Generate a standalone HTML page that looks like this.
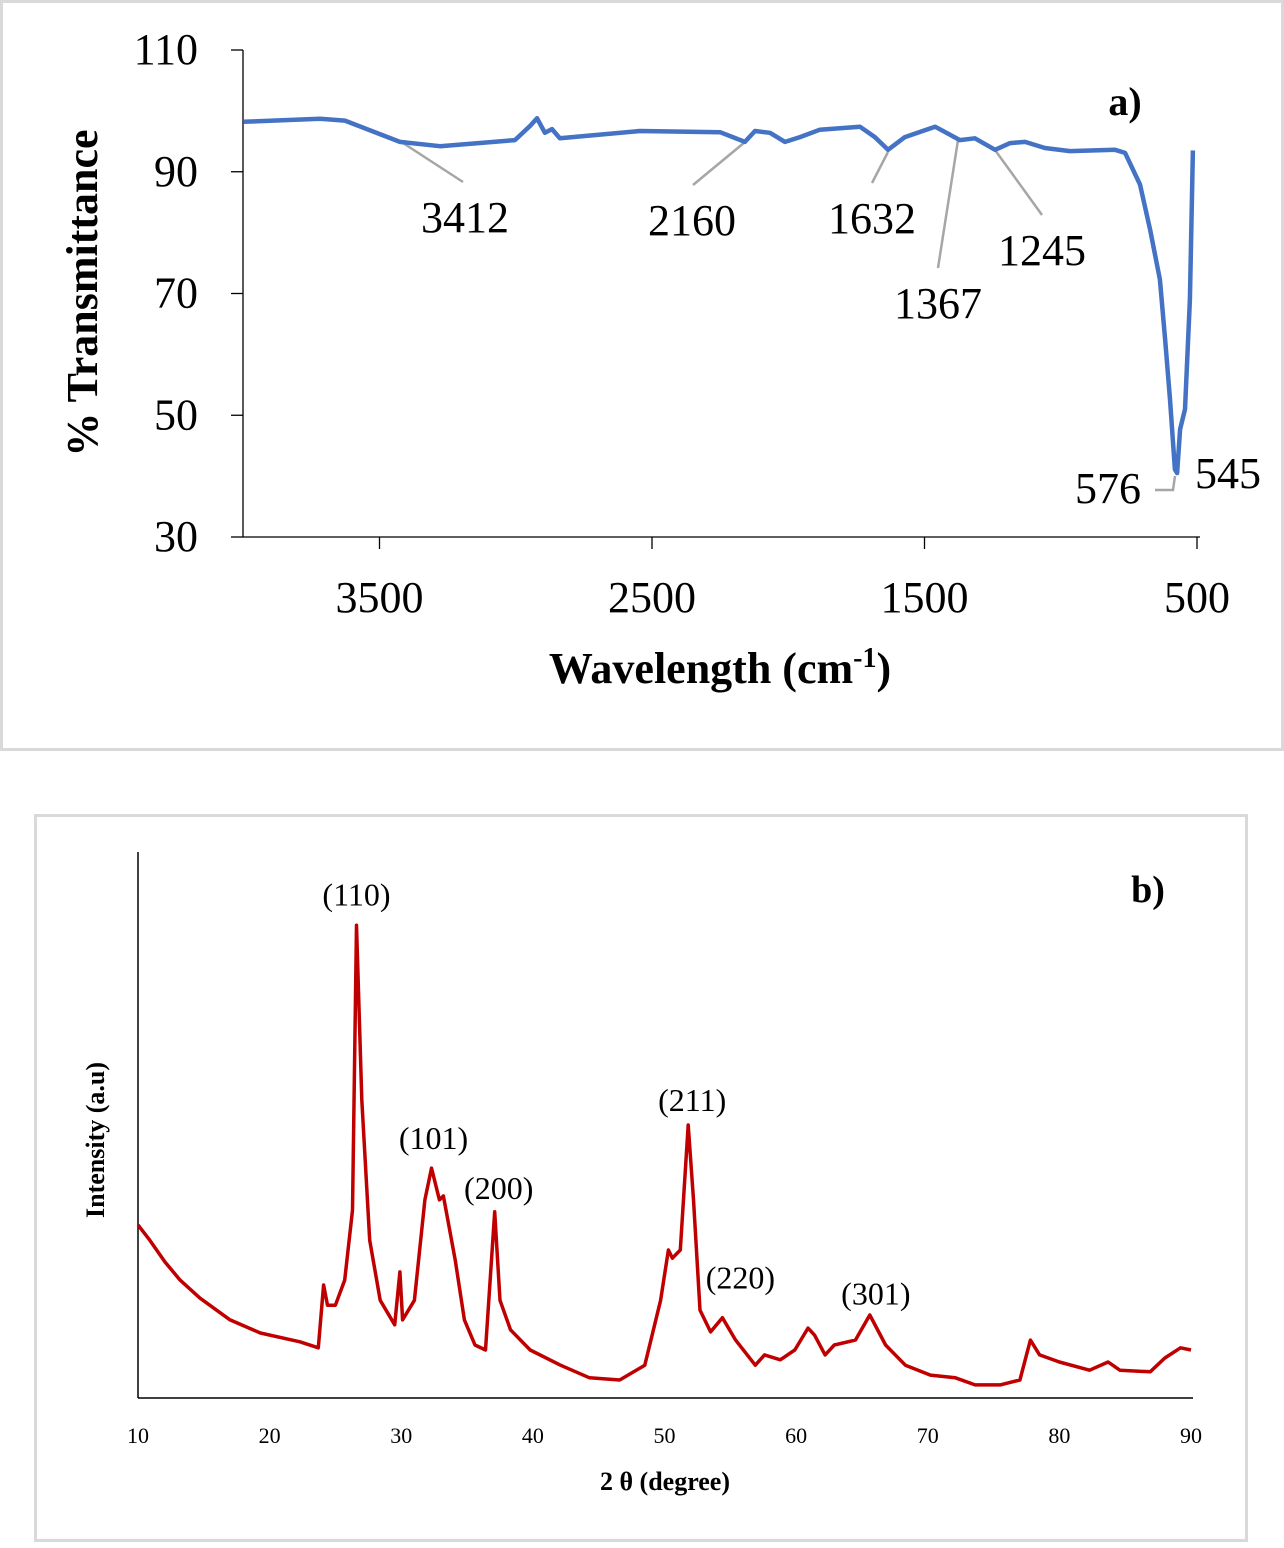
<!DOCTYPE html>
<html><head><meta charset="utf-8"><style>
body{margin:0;background:#fff;}
svg text{font-family:"Liberation Serif",serif;}
</style></head><body>
<svg width="1284" height="1543" xmlns="http://www.w3.org/2000/svg">
<rect x="1.5" y="1.5" width="1281" height="748" fill="#fff" stroke="#d9d9d9" stroke-width="3"/>
<rect x="35.5" y="815.5" width="1211" height="725" fill="#fff" stroke="#d9d9d9" stroke-width="3"/>
<g id="ftir"></g>
<g id="xrd"></g>
</svg>
<script>
const NS="http://www.w3.org/2000/svg";
function mk(parent,tag,attrs,txt){const e=document.createElementNS(NS,tag);for(const k in attrs)e.setAttribute(k,attrs[k]);if(txt!==undefined)e.textContent=txt;parent.appendChild(e);return e;}

// ---------- FTIR data ----------
const ftirWavenumber=[4000,3718,3627,3425,3278,3003,2948,2922,2893,2867,2838,2545,2250,2159,2122,2067,2012,1957,1884,1737,1682,1634,1572,1461,1370,1315,1241,1186,1131,1058,966,801,764,709,672,636,617,599,581,573,562,544,526,515];
const ftirTransmittance=[98.2,98.7,98.4,94.9,94.2,95.2,97.5,98.8,96.4,97.0,95.5,96.7,96.5,94.9,96.7,96.4,94.9,95.7,96.9,97.4,95.7,93.6,95.7,97.4,95.2,95.5,93.6,94.7,94.9,93.9,93.4,93.6,93.1,87.9,80.5,72.3,62.5,52.6,41.1,40.5,47.7,51,69,93.5];
const ftirYTicks=[110,90,70,50,30];
const ftirXTicks=[3500,2500,1500,500];
const ftirAnnotations=["3412","2160","1632","1367","1245","576","545"];

// ---------- XRD data ----------
const xrdTwoTheta=[10.0,10.9,12.05,13.2,14.7,17.0,19.3,22.3,23.7,24.1,24.4,25.0,25.7,26.3,26.6,27.0,27.6,28.4,29.5,29.9,30.1,31.0,31.8,32.3,32.9,33.2,34.1,34.8,35.6,36.4,37.1,37.5,38.3,39.8,42.1,44.3,46.6,48.5,49.7,50.3,50.6,51.2,51.8,52.2,52.7,53.5,54.4,55.4,56.9,57.6,58.8,59.9,60.9,61.4,62.2,62.9,64.5,65.6,66.8,68.3,70.2,72.1,73.6,75.5,77.0,77.8,78.5,80.0,82.3,83.7,84.6,86.9,88.0,89.2,90.0];
const xrdIntensity=[31.7,28.9,24.9,21.6,18.3,14.3,11.9,10.3,9.2,20.7,17.0,17.0,21.6,34.4,86.6,54.6,28.9,17.9,13.4,23.1,14.3,17.9,36.3,42.1,36.3,37.0,25.3,14.3,9.7,8.8,34.1,17.9,12.5,8.8,6.0,3.7,3.3,6.0,17.9,27.1,25.6,27.1,50.0,36.3,16.1,12.1,14.7,10.6,6.0,7.9,7.0,8.8,12.8,11.5,7.9,9.7,10.6,15.2,9.7,6.0,4.2,3.7,2.4,2.4,3.3,10.6,7.9,6.6,5.1,6.6,5.1,4.8,7.3,9.2,8.8];
const xrdXTicks=[10,20,30,40,50,60,70,80,90];
const xrdPeakLabels=["(110)","(101)","(200)","(211)","(220)","(301)"];
const xrdPeakPos=[[26.6,88],[32.3,46],[37.1,37],[51.8,54],[54.4,19],[65.6,19]];

// FTIR axes
const fx=w=>1197-(w-500)*0.2725;
const fy=t=>50+(110-t)*6.0875;
const F=document.getElementById('ftir');
let ax=mk(F,'line',{x1:243,y1:50,x2:243,y2:537,stroke:'#000','stroke-width':1.3});

ax=mk(F,'line',{x1:243,y1:537,x2:1200,y2:537,stroke:'#000','stroke-width':1.3});

ftirYTicks.forEach(v=>{
  const t=mk(F,'line',{x1:231,x2:243,y1:fy(v),y2:fy(v),stroke:'#000','stroke-width':1.3});
  
  const l=mk(F,'text',{x:198,y:fy(v)+14,'text-anchor':'end','font-size':44},String(v));
  
});
ftirXTicks.forEach(v=>{
  const t=mk(F,'line',{x1:fx(v),x2:fx(v),y1:537,y2:549,stroke:'#000','stroke-width':1.3});
  
  const l=mk(F,'text',{x:fx(v),y:612,'text-anchor':'middle','font-size':44},String(v));
  
});
let tt=mk(F,'text',{x:0,y:0,transform:'translate(97,293) rotate(-90)','text-anchor':'middle','font-size':44,'font-weight':'bold'},'% Transmittance');

tt=mk(F,'text',{x:720,y:683,'text-anchor':'middle','font-size':44,'font-weight':'bold'});

tt.innerHTML='Wavelength (cm<tspan dy="-16" font-size="28">-1</tspan><tspan dy="16">)</tspan>';
tt=mk(F,'text',{x:1125,y:115,'text-anchor':'middle','font-size':40,'font-weight':'bold'},'a)');

const leaders=[[403,143,463,182],[745,142,693,185],[888,152,872,183],[958,140,938,268],[995,150,1042,215]];
leaders.forEach(a=>{const l=mk(F,'line',{x1:a[0],y1:a[1],x2:a[2],y2:a[3],stroke:'#a6a6a6','stroke-width':2.5});
});
let pl=mk(F,'polyline',{points:'1155,490 1173,490 1175,476',fill:'none',stroke:'#a6a6a6','stroke-width':2.5});

const annPos=[[465,232,'middle'],[692,235,'middle'],[872,233,'middle'],[938,318,'middle'],[1042,265,'middle'],[1141,503,'end'],[1195,488,'start']];
ftirAnnotations.forEach((s,i)=>{const p=annPos[i];
 const l=mk(F,'text',{x:p[0],y:p[1],'text-anchor':p[2],'font-size':44},s);
 });
let pts=ftirWavenumber.map((w,i)=>fx(w).toFixed(1)+','+fy(ftirTransmittance[i]).toFixed(1)).join(' ');
let line=mk(F,'polyline',{points:pts,fill:'none',stroke:'#4472c4','stroke-width':4.5,'stroke-linejoin':'round'});


// XRD axes
const xx=v=>138+(v-10)*13.1625;
const xy=v=>1398-v*5.46;
const X=document.getElementById('xrd');
ax=mk(X,'line',{x1:138,y1:852,x2:138,y2:1398,stroke:'#000','stroke-width':1.5});

ax=mk(X,'line',{x1:138,y1:1398,x2:1193,y2:1398,stroke:'#000','stroke-width':1.5});

xrdXTicks.forEach(v=>{
  const l=mk(X,'text',{x:xx(v),y:1443,'text-anchor':'middle','font-size':22},String(v));
  
});
tt=mk(X,'text',{x:665,y:1490,'text-anchor':'middle','font-size':26,'font-weight':'bold'},'2 θ (degree)');

tt=mk(X,'text',{x:0,y:0,transform:'translate(104,1140) rotate(-90)','text-anchor':'middle','font-size':26,'font-weight':'bold'},'Intensity (a.u)');

tt=mk(X,'text',{x:1148,y:902,'text-anchor':'middle','font-size':38,'font-weight':'bold'},'b)');

pts=xrdTwoTheta.map((v,i)=>xx(v).toFixed(1)+','+xy(xrdIntensity[i]).toFixed(1)).join(' ');
line=mk(X,'polyline',{points:pts,fill:'none',stroke:'#c00000','stroke-width':3.5,'stroke-linejoin':'round'});

const lblOff=[[0,-42],[2,-28],[4,-27],[4,-22],[18,-36],[6,-20]];
xrdPeakLabels.forEach((s,i)=>{const p=xrdPeakPos[i];
 const l=mk(X,'text',{x:xx(p[0])+lblOff[i][0],y:xy(p[1])+lblOff[i][1]+30,'text-anchor':'middle','font-size':32},s);
 });
</script>
</body></html>
